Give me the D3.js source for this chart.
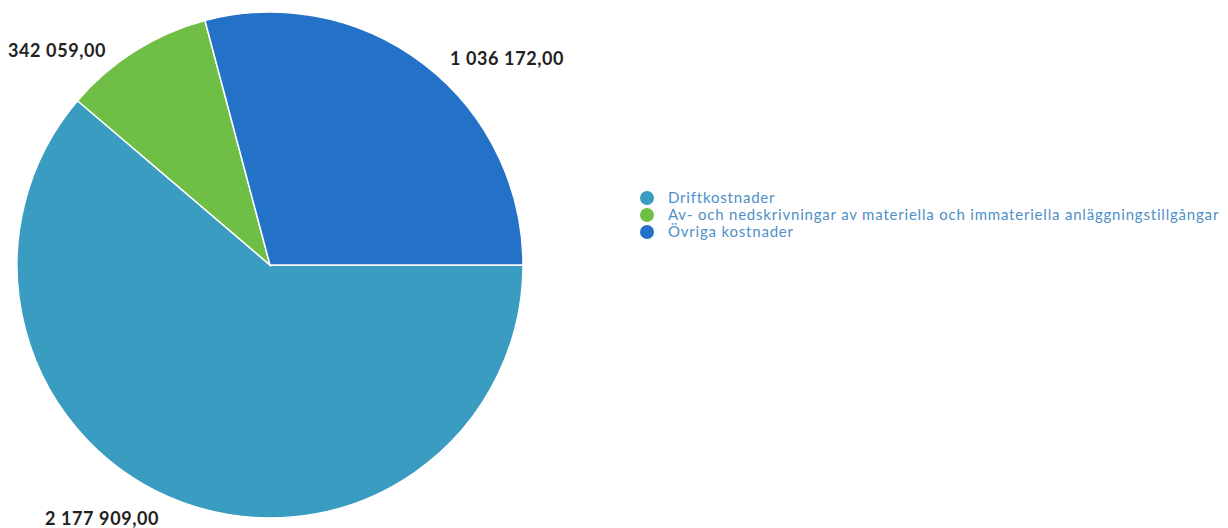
<!DOCTYPE html>
<html>
<head>
<meta charset="utf-8">
<script src="https://cdn.jsdelivr.net/npm/d3@7"></script>
<style>
  body { margin: 0; background: #fff; }
  text { font-family: Lato, "Open Sans", sans-serif; }
</style>
</head>
<body>
<svg width="1228" height="528"></svg>
<script>
let categories = ["Driftkostnader", "Av- och nedskrivningar av materiella och immateriella anläggningstillgångar", "Övriga kostnader"];
let values = [2177909, 342059, 1036172];
let colors = ["#3a9cc0", "#6fbe45", "#2372c8"];

var svg = d3.select("svg"),
    cx = 270, cy = 265, radius = 253;

let numberFormat = d3.formatLocale({ decimal: ",", thousands: " ", grouping: [3] }).format(",.2f");

let data = categories.map((c, i) => ({ name: c, value: values[i], color: colors[i] }));

let pie = d3.pie()
    .value(d => d.value)
    .sort(null)
    .startAngle(Math.PI / 2)
    .endAngle(Math.PI / 2 + 2 * Math.PI);

let arc = d3.arc().innerRadius(0).outerRadius(radius);

let g = svg.append("g").attr("transform", `translate(${cx},${cy})`);

let arcs = pie(data);

g.selectAll("path")
    .data(arcs)
    .enter()
    .append("path")
    .attr("d", arc)
    .attr("fill", d => d.data.color)
    .attr("stroke", "#fff")
    .attr("stroke-width", 1.5);

// value labels outside the slices, near where the slice meets the rim
let labelPos = [
    { x: -225, y: 260 },
    { x: -262, y: -208 },
    { x: 180, y: -200 }
];
g.selectAll("text.value")
    .data(arcs)
    .enter()
    .append("text")
    .attr("class", "value")
    .attr("x", (d, i) => labelPos[i].x)
    .attr("y", (d, i) => labelPos[i].y)
    .attr("font-size", 18)
    .attr("font-weight", "bold")
    .attr("letter-spacing", 0.6)
    .attr("fill", "#222")
    .text(d => numberFormat(d.data.value));

// legend
let legend = svg.append("g").attr("transform", "translate(647,198)");
let item = legend.selectAll("g")
    .data(data)
    .enter()
    .append("g")
    .attr("transform", (d, i) => `translate(0,${i * 17})`);
item.append("circle")
    .attr("r", 7)
    .attr("fill", d => d.color);
item.append("text")
    .attr("x", 21)
    .attr("dy", "0.35em")
    .attr("font-size", 15)
    .attr("letter-spacing", 0.8)
    .attr("fill", "#4f8fc6")
    .text(d => d.name);
</script>
</body>
</html>
